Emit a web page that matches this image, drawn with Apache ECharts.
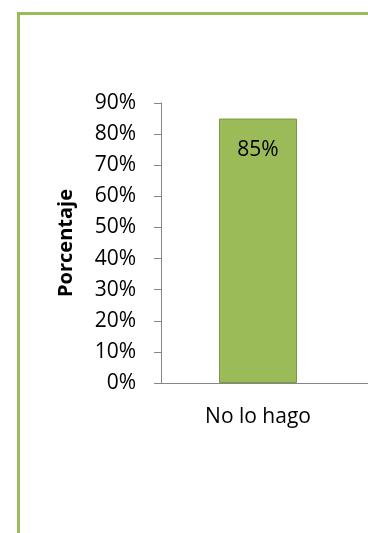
<!DOCTYPE html>
<html>
<head>
<meta charset="utf-8">
<script src="https://cdn.jsdelivr.net/npm/echarts@6/dist/echarts.min.js"></script>
<style>
html,body{margin:0;padding:0;background:#fff;}
#chart{width:368px;height:533px;}
</style>
</head>
<body>
<div id="chart"></div>
<script>
const categories = ['No lo hago'];
const values = [85];
const yTicks = ['0%','10%','20%','30%','40%','50%','60%','70%','80%','90%'];
const yTitle = 'Porcentaje';

const font = 'Open Sans';
const chart = echarts.init(document.getElementById('chart'), null, {renderer: 'canvas'});
chart.setOption({
  animation: false,
  graphic: [{
    type: 'rect',
    shape: {x: 18.5, y: 13.5, width: 500, height: 700},
    style: {fill: 'none', stroke: '#9BBB59', lineWidth: 3},
    silent: true
  }],
  grid: [
    {left: 161, top: 103, right: 13, bottom: 150},
    {left: 161, top: 103, right: -20, bottom: 150}
  ],
  xAxis: [{
    type: 'category',
    data: categories,
    gridIndex: 0,
    axisLine: {show: false},
    axisTick: {show: false},
    axisLabel: {color: '#000', fontFamily: font, fontSize: 21, margin: 24}
  }, {
    type: 'category',
    data: categories,
    gridIndex: 1,
    axisLine: {show: true, lineStyle: {color: '#868686', width: 1}},
    axisTick: {show: false},
    axisLabel: {show: false}
  }],
  yAxis: [{
    type: 'value',
    gridIndex: 0,
    min: 0, max: 90, interval: 10,
    name: yTitle,
    nameLocation: 'middle',
    nameRotate: 90,
    nameGap: 85,
    nameTextStyle: {color: '#000', fontFamily: font, fontSize: 20, fontWeight: 'bold'},
    axisLine: {show: true, lineStyle: {color: '#868686', width: 1}},
    axisTick: {show: true, length: 7, lineStyle: {color: '#868686'}},
    splitLine: {show: false},
    axisLabel: {
      color: '#000', fontFamily: font, fontSize: 21, margin: 25,
      formatter: function (v) { return yTicks[Math.round(v / 10)]; }
    }
  }, {
    type: 'value',
    gridIndex: 1,
    min: 0, max: 90, interval: 10,
    show: false
  }],
  series: [{
    type: 'bar',
    xAxisIndex: 0, yAxisIndex: 0,
    data: values,
    barWidth: 78,
    itemStyle: {color: '#9BBB59', borderColor: '#7A9A45', borderWidth: 1},
    label: {
      show: true, position: 'insideTop', distance: 21,
      color: '#000', fontFamily: font, fontSize: 21,
      formatter: '{c}%'
    }
  }]
});
</script>
</body>
</html>
